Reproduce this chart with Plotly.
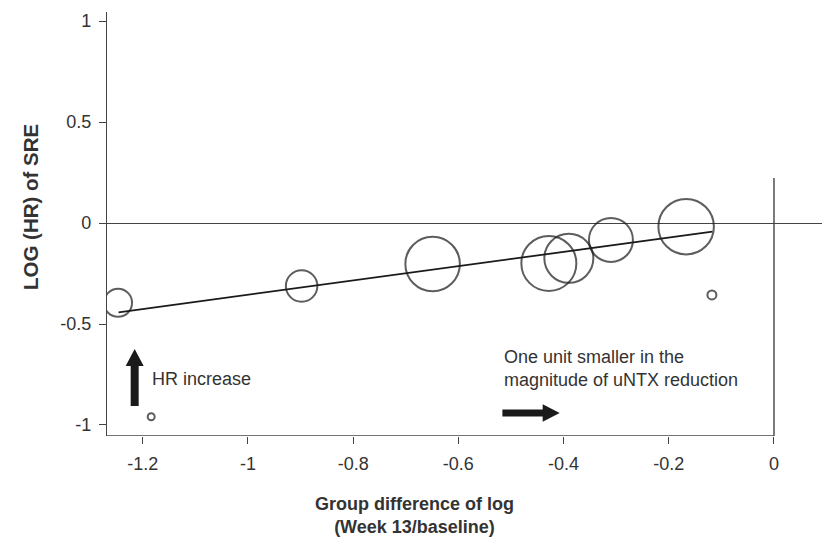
import plotly.graph_objects as go

# ---- data ----
study_x = [-1.247, -0.898, -0.649, -0.428, -0.390, -0.310, -0.167, -1.184, -0.118]
study_logHR = [-0.395, -0.312, -0.203, -0.200, -0.175, -0.084, -0.018, -0.959, -0.356]
study_weight = [28, 31.5, 54.5, 55, 49, 44, 55.5, 7, 9]

fit_x = [-1.246, -0.117]
fit_y = [-0.442, -0.043]

x_tickvals = [-1.2, -1.0, -0.8, -0.6, -0.4, -0.2, 0.0]
x_ticktext = ["-1.2", "-1", "-0.8", "-0.6", "-0.4", "-0.2", "0"]
y_tickvals = [1.0, 0.5, 0.0, -0.5, -1.0]
y_ticktext = ["1", "0.5", "0", "-0.5", "-1"]

XMIN, XMAX = -1.268, 0.1065
YMIN, YMAX = -1.0545, 1.0446

FONT = "Liberation Sans, Arial, sans-serif"
INK = "#1a1a1a"
AX = "#444444"

fig = go.Figure()

fig.add_trace(go.Scatter(
    x=fit_x, y=fit_y, mode="lines",
    line=dict(color=INK, width=1.8), hoverinfo="skip", showlegend=False))

fig.add_trace(go.Scatter(
    x=study_x, y=study_logHR, mode="markers",
    marker=dict(size=study_weight, sizemode="diameter", color="rgba(0,0,0,0)",
                line=dict(color=INK, width=2)),
    showlegend=False))

shapes = [
    dict(type="line", xref="x", yref="y", x0=XMIN, x1=0, y0=YMIN, y1=YMIN,
         line=dict(color=AX, width=1.4)),
    dict(type="line", xref="x", yref="y", x0=0, x1=0, y0=0.223, y1=YMIN,
         line=dict(color=AX, width=1.4)),
    dict(type="path", xref="x", yref="y",
         path="M -1.2230 -0.906 L -1.2078 -0.906 L -1.2078 -0.708 L -1.1983 -0.708 "
              "L -1.2154 -0.624 L -1.2325 -0.708 L -1.2230 -0.708 Z",
         fillcolor=INK, line=dict(width=0)),
    dict(type="path", xref="x", yref="y",
         path="M -0.5163 -0.9233 L -0.4397 -0.9233 L -0.4397 -0.8976 L -0.4074 -0.9406 "
              "L -0.4397 -0.9836 L -0.4397 -0.9579 L -0.5163 -0.9579 Z",
         fillcolor=INK, line=dict(width=0)),
]

annotations = [
    dict(text="HR increase", xref="paper", yref="paper",
         x=(150 - 107) / 723, y=1 - (379 - 12) / 424, xanchor="left", yanchor="middle",
         showarrow=False, font=dict(family=FONT, size=18, color="#333")),
    dict(text="One unit smaller in the<br>magnitude of uNTX reduction",
         xref="paper", yref="paper", align="left",
         x=(502 - 107) / 723, y=1 - (368 - 12) / 424, xanchor="left", yanchor="middle",
         showarrow=False, font=dict(family=FONT, size=18, color="#333")),
    dict(text="<b>Group difference of log<br>(Week 13/baseline)</b>",
         xref="paper", yref="paper", align="center",
         x=(414 - 107) / 723, y=1 - (515 - 12) / 424, xanchor="center", yanchor="middle",
         showarrow=False, font=dict(family=FONT, size=18, color="#333")),
    dict(text="<b>LOG (HR) of SRE</b>", xref="paper", yref="paper", textangle=-90,
         x=(30 - 107) / 723, y=1 - (207 - 12) / 424, xanchor="center", yanchor="middle",
         showarrow=False, font=dict(family=FONT, size=20.5, color="#333")),
]

fig.update_layout(
    width=822, height=534,
    margin=dict(l=99, r=0, t=4, b=106, autoexpand=False),
    paper_bgcolor="white", plot_bgcolor="white",
    font=dict(family=FONT, size=18, color="#333"),
    shapes=shapes, annotations=annotations,
    xaxis=dict(range=[XMIN, XMAX], tickvals=x_tickvals, ticktext=x_ticktext,
               showgrid=False, zeroline=False, showline=False,
               ticks="outside", ticklen=7, tickcolor=AX, tickwidth=1.4,
               ticklabelstandoff=4,
               tickfont=dict(family=FONT, size=18, color="#333")),
    yaxis=dict(range=[YMIN, YMAX], tickvals=y_tickvals, ticktext=y_ticktext,
               showgrid=False, zeroline=True, zerolinecolor=AX, zerolinewidth=1.4,
               showline=True, linecolor=AX, linewidth=1.4,
               ticks="outside", ticklen=7, tickcolor=AX, tickwidth=1.4,
               ticklabelstandoff=4,
               tickfont=dict(family=FONT, size=18, color="#333")),
)

fig.write_html("out.html")
